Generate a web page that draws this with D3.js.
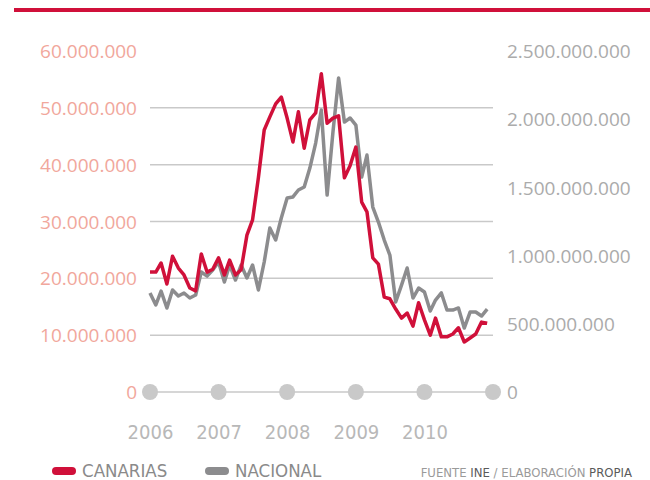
<!DOCTYPE html>
<html>
<head>
<meta charset="utf-8">
<script src="https://cdn.jsdelivr.net/npm/d3@7"></script>
<style>
  html, body { margin: 0; padding: 0; background: #fff; }
  svg { display: block; }
</style>
</head>
<body>
<svg id="chart" width="650" height="480"></svg>
<script>
// ---- data (monthly, Jan 2006 – Dec 2010) ----
const startYear = 2006;
const yearLabels = ["2006", "2007", "2008", "2009", "2010"];
const canarias = [ // millions
  21.1, 21.1, 22.7, 19.0, 23.9, 21.8, 20.6, 18.3, 17.8, 24.3, 21.1, 21.6,
  23.6, 20.6, 23.2, 20.6, 21.5, 27.6, 30.3, 37.7, 46.1, 48.4, 50.7, 51.9,
  48.2, 44.0, 49.3, 42.9, 47.9, 49.1, 56.0, 47.3, 48.2, 48.6, 37.7, 39.8,
  43.1, 33.4, 31.7, 23.6, 22.5, 16.7, 16.4, 14.6, 13.0, 13.9, 11.6, 15.7,
  12.7, 10.0, 13.0, 9.7, 9.7, 10.2, 11.3, 8.8, 9.5, 10.2, 12.3, 12.1
];
const nacional = [ // millions
  726, 638, 740, 616, 748, 704, 726, 689, 711, 880, 850, 894,
  953, 806, 931, 821, 931, 836, 931, 748, 953, 1202, 1114, 1276,
  1422, 1430, 1481, 1503, 1642, 1825, 2067, 1444, 1906, 2302, 1979, 2009,
  1957, 1576, 1737, 1356, 1246, 1114, 1004, 660, 784, 909, 689, 762,
  733, 594, 674, 726, 601, 601, 616, 469, 586, 586, 557, 608
];
const leftTicks = [0, 10e6, 20e6, 30e6, 40e6, 50e6, 60e6];
const rightTicks = [0, 500e6, 1000e6, 1500e6, 2000e6, 2500e6];
const seriesNames = ["CANARIAS", "NACIONAL"];

// ---- setup ----
const svg = d3.select("#chart");
const RED = "#d0103a", GRAY = "#8c8c8e", GRID = "#c9c9c9";
const LEFTLAB = "#f1a79c", RIGHTLAB = "#ababab";

const x = d3.scaleTime()
  .domain([new Date(startYear, 0, 1), new Date(startYear + 5, 0, 1)])
  .range([150, 493]);
const yL = d3.scaleLinear().domain([0, 60e6]).range([392, 51]);
const yR = d3.scaleLinear().domain([0, 2500e6]).range([392, 51]);

const loc = d3.formatLocale({decimal: ",", thousands: ".", grouping: [3], currency: ["", "€"]});
const fmt = loc.format(",d");

// top rule
svg.append("rect").attr("x", 14).attr("y", 8).attr("width", 636).attr("height", 4).attr("fill", RED);

// gridlines
svg.append("g").selectAll("line")
  .data(leftTicks.filter(d => d > 0 && d < 60e6))
  .join("line")
  .attr("x1", 150).attr("x2", 493)
  .attr("y1", d => yL(d)).attr("y2", d => yL(d))
  .attr("stroke", GRID).attr("stroke-width", 1.5);

// baseline
svg.append("line").attr("x1", x.range()[0]).attr("x2", x.range()[1])
  .attr("y1", yL(0)).attr("y2", yL(0)).attr("stroke", GRID).attr("stroke-width", 1.5);

// left axis
const gL = svg.append("g").attr("transform", "translate(137,0)")
  .call(d3.axisLeft(yL).tickValues(leftTicks).tickFormat(fmt).tickSize(0).tickPadding(0));
gL.select(".domain").remove();
gL.selectAll("text").attr("fill", LEFTLAB).style("font-family", "'Open Sans', sans-serif")
  .style("font-size", "19px").attr("dy", "0.35em");

// right axis
const gR = svg.append("g").attr("transform", "translate(507,0)")
  .call(d3.axisRight(yR).tickValues(rightTicks).tickFormat(fmt).tickSize(0).tickPadding(0));
gR.select(".domain").remove();
gR.selectAll("text").attr("fill", RIGHTLAB).style("font-family", "'Open Sans', sans-serif")
  .style("font-size", "19px").attr("dy", "0.35em");

// year dots
const yearDates = d3.range(startYear, startYear + 6).map(y => new Date(y, 0, 1));
svg.append("g").selectAll("circle").data(yearDates).join("circle")
  .attr("cx", d => x(d)).attr("cy", yL(0)).attr("r", 8).attr("fill", GRID);

// year labels
const gX = svg.append("g").attr("transform", "translate(0,432)")
  .call(d3.axisBottom(x).tickValues(yearDates.slice(0, 5)).tickFormat((d, i) => yearLabels[i]).tickSize(0).tickPadding(0));
gX.select(".domain").remove();
gX.selectAll("text").attr("fill", "#b8b8b8").attr("dy", "0.35em")
  .style("font-family", "'Liberation Sans Narrow', 'DejaVu Sans Condensed', sans-serif")
  .style("font-size", "20px");

// lines
const months = d3.range(canarias.length).map(i => new Date(startYear, i, 1));
const lineL = d3.line().x((d, i) => x(months[i])).y(d => yL(d * 1e6)).curve(d3.curveLinear);
const lineR = d3.line().x((d, i) => x(months[i])).y(d => yR(d * 1e6)).curve(d3.curveLinear);

svg.append("path").datum(nacional).attr("d", lineR).attr("fill", "none")
  .attr("stroke", GRAY).attr("stroke-width", 3.5).attr("stroke-linejoin", "round");
svg.append("path").datum(canarias).attr("d", lineL).attr("fill", "none")
  .attr("stroke", RED).attr("stroke-width", 3.5).attr("stroke-linejoin", "round");

// legend
const legendFont = "'Liberation Sans Narrow', 'DejaVu Sans Condensed', sans-serif";
const leg = svg.append("g");
const legItems = [{name: seriesNames[0], color: RED, x: 52}, {name: seriesNames[1], color: GRAY, x: 205}];
legItems.forEach(it => {
  leg.append("rect").attr("x", it.x).attr("y", 467).attr("width", 24).attr("height", 8).attr("rx", 4).attr("fill", it.color);
  leg.append("text").attr("x", it.x + 30).attr("y", 477).text(it.name)
    .attr("fill", "#8a8a8a").style("font-family", legendFont).style("font-size", "18.5px");
});

// source
const src = svg.append("text").attr("x", 632).attr("y", 477).attr("text-anchor", "end")
  .style("font-family", legendFont).style("font-size", "13px").attr("fill", "#9a9a9a");
src.append("tspan").text("FUENTE ");
src.append("tspan").text("INE").attr("fill", "#5a5a5a");
src.append("tspan").text(" / ELABORACIÓN ");
src.append("tspan").text("PROPIA").attr("fill", "#5a5a5a");
</script>
</body>
</html>
